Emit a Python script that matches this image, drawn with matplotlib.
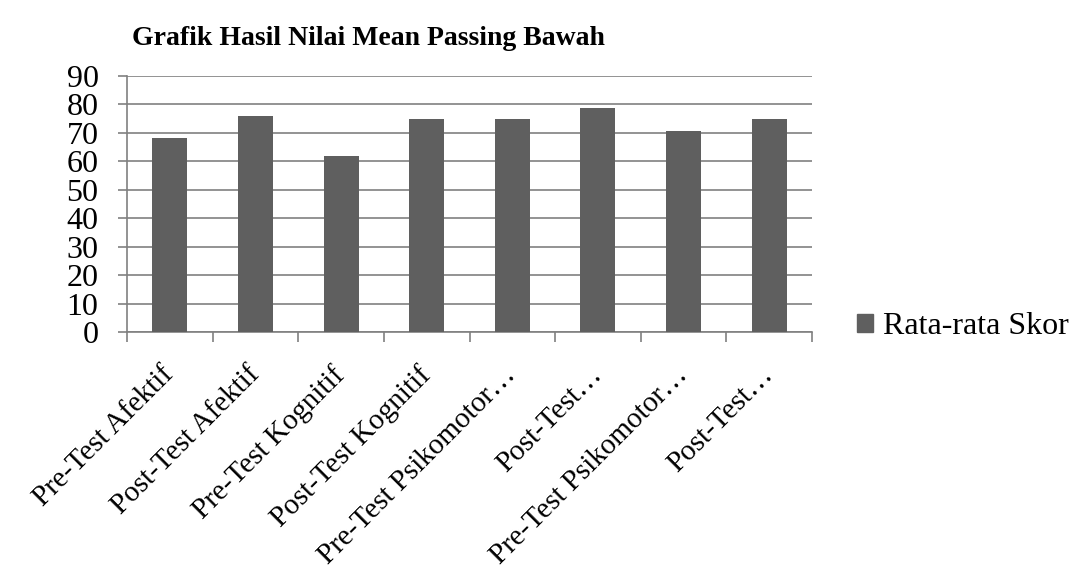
import numpy as np
import matplotlib.pyplot as plt
from matplotlib.patches import Patch

# Data
categories = ['Pre-Test Afektif', 'Post-Test Afektif', 'Pre-Test Kognitif',
              'Post-Test Kognitif', 'Pre-Test Psikomotor…', 'Post-Test…',
              'Pre-Test Psikomotor…', 'Post-Test…']
scores = [68.2, 76.0, 62.0, 75.0, 75.0, 78.7, 70.8, 75.0]
series_name = 'Rata-rata Skor'
title = 'Grafik Hasil Nilai Mean Passing Bawah'

plt.rcParams['font.family'] = ['Liberation Serif', 'DejaVu Serif']

fig = plt.figure(figsize=(10.8, 5.72), dpi=100)
ax = fig.add_axes([127 / 1080, 1 - 332 / 572, (812 - 127) / 1080, (332 - 76) / 572])

x = np.arange(len(categories))
ax.bar(x, scores, width=0.41, color='#5f5f5f', zorder=3)

ax.set_xlim(-0.5, len(categories) - 0.5)
ax.set_ylim(0, 90)
ax.set_yticks(np.arange(0, 91, 10))
ax.yaxis.grid(True, color='#808080', linewidth=1.2, zorder=0)
ax.tick_params(axis='y', labelsize=23, length=6.5, width=1.2, color='#808080', pad=14)

ax.set_xticks(np.arange(-0.5, len(categories), 1))
ax.set_xticklabels([])
ax.tick_params(axis='x', length=7, width=1.2, color='#808080')
ax.set_xticks(x, minor=True)
ax.set_xticklabels(categories, minor=True, rotation=45, ha='right', va='center',
                   rotation_mode='anchor', fontsize=21)
ax.tick_params(axis='x', which='minor', length=0, pad=28)

for s in ['top', 'right']:
    ax.spines[s].set_visible(False)
for s in ['left', 'bottom']:
    ax.spines[s].set_color('#808080')
    ax.spines[s].set_linewidth(1.2)

fig.text(132 / 1080, 1 - 45 / 572, title, fontsize=20, fontweight='bold',
         ha='left', va='baseline')

fig.legend(handles=[Patch(color='#5f5f5f', label=series_name)],
           loc='center left', bbox_to_anchor=(841 / 1080, 1 - 327 / 572),
           frameon=False, fontsize=23, handlelength=0.5, handleheight=0.5,
           handletextpad=0.3, borderpad=0)

fig.savefig('out.png', dpi=100, facecolor='white')
